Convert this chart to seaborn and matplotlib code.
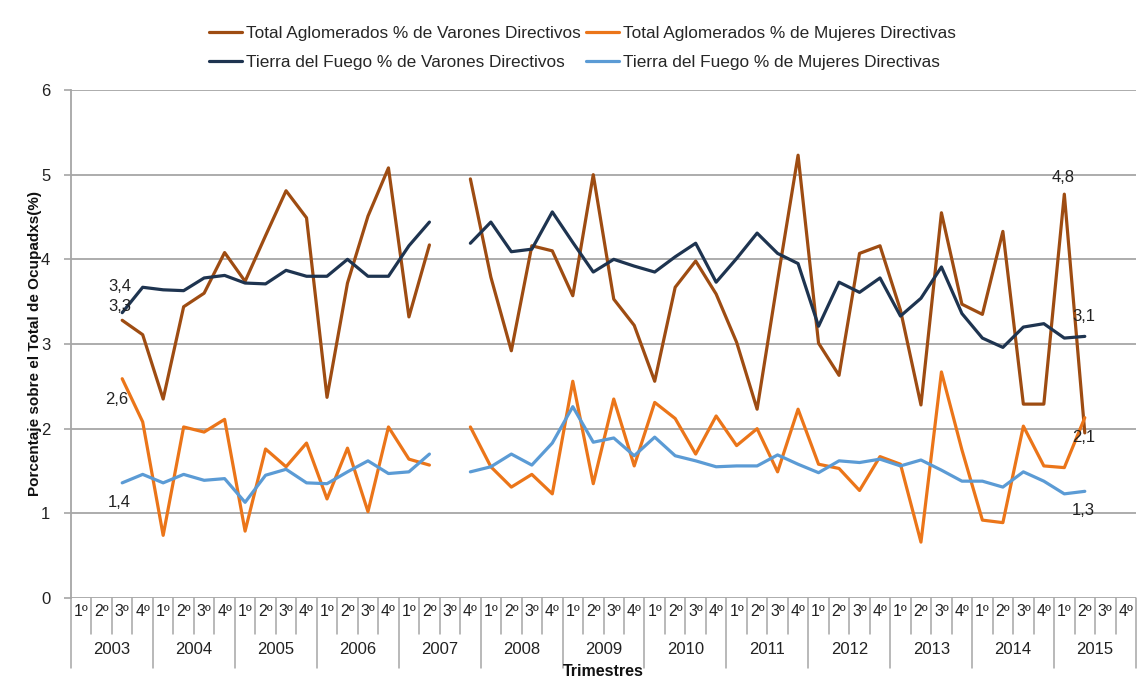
import numpy as np
import pandas as pd
import matplotlib
matplotlib.use("Agg")
import matplotlib.pyplot as plt
import matplotlib.transforms as mtransforms
from matplotlib.lines import Line2D
import seaborn as sns

nan = np.nan
years = [str(y) for y in range(2003, 2016)]
quarters = ["1º", "2º", "3º", "4º"]

series_names = [
    "Total Aglomerados % de Varones Directivos",
    "Total Aglomerados % de Mujeres Directivas",
    "Tierra del Fuego % de Varones Directivos",
    "Tierra del Fuego % de Mujeres Directivas",
]

total_varones = [nan, nan, 3.28, 3.11, 2.35, 3.44, 3.60, 4.08, 3.74, 4.28, 4.81, 4.49,
                 2.37, 3.72, 4.51, 5.08, 3.32, 4.17, nan, 4.95, 3.79, 2.92, 4.16, 4.10,
                 3.57, 5.00, 3.53, 3.22, 2.56, 3.67, 3.98, 3.59, 3.02, 2.23, 3.75, 5.23,
                 3.01, 2.63, 4.07, 4.16, 3.40, 2.28, 4.55, 3.47, 3.35, 4.33, 2.29, 2.29,
                 4.77, 1.95, nan, nan]
total_mujeres = [nan, nan, 2.59, 2.08, 0.74, 2.02, 1.96, 2.11, 0.79, 1.76, 1.55, 1.83,
                 1.17, 1.77, 1.02, 2.02, 1.64, 1.57, nan, 2.02, 1.55, 1.31, 1.46, 1.23,
                 2.56, 1.35, 2.35, 1.56, 2.31, 2.12, 1.70, 2.15, 1.80, 2.00, 1.49, 2.23,
                 1.58, 1.53, 1.27, 1.67, 1.58, 0.66, 2.67, 1.75, 0.92, 0.89, 2.03, 1.56,
                 1.54, 2.13, nan, nan]
tdf_varones = [nan, nan, 3.37, 3.67, 3.64, 3.63, 3.78, 3.81, 3.72, 3.71, 3.87, 3.80,
               3.80, 4.00, 3.80, 3.80, 4.16, 4.44, nan, 4.19, 4.44, 4.09, 4.12, 4.56,
               4.20, 3.85, 4.00, 3.92, 3.85, 4.03, 4.19, 3.73, 4.01, 4.31, 4.07, 3.95,
               3.21, 3.73, 3.61, 3.78, 3.33, 3.54, 3.91, 3.36, 3.07, 2.96, 3.20, 3.24,
               3.07, 3.09, nan, nan]
tdf_mujeres = [nan, nan, 1.36, 1.46, 1.36, 1.46, 1.39, 1.41, 1.13, 1.45, 1.52, 1.36,
               1.35, 1.49, 1.62, 1.47, 1.49, 1.70, nan, 1.49, 1.55, 1.70, 1.57, 1.83,
               2.26, 1.84, 1.89, 1.68, 1.90, 1.68, 1.62, 1.55, 1.56, 1.56, 1.69, 1.58,
               1.48, 1.62, 1.60, 1.64, 1.56, 1.63, 1.51, 1.38, 1.38, 1.31, 1.49, 1.38,
               1.23, 1.26, nan, nan]

colors = ["#9E4C12", "#EB7519", "#1E3450", "#5B9BD5"]
all_values = [total_varones, total_mujeres, tdf_varones, tdf_mujeres]

# long-form table
rows = []
for name, vals in zip(series_names, all_values):
    seg = 0
    for i, v in enumerate(vals):
        if np.isnan(v):
            seg += 1
            continue
        rows.append({"serie": name, "x": i, "valor": v, "seg": seg})
df = pd.DataFrame(rows)

sns.set_theme(style="white")
plt.rcParams["font.family"] = ["Liberation Sans", "DejaVu Sans"]

fig = plt.figure(figsize=(11.37, 6.91), dpi=100)
W, H = 1137, 691
ax_left, ax_right, ax_top, ax_bot = 71, 1136, 90, 598
ax = fig.add_axes([ax_left / W, 1 - ax_bot / H, (ax_right - ax_left) / W, (ax_bot - ax_top) / H])

sns.lineplot(data=df, x="x", y="valor", hue="serie", units="seg", estimator=None,
             hue_order=series_names, palette=colors, linewidth=2.3, legend=False,
             sort=False, ax=ax)

n = len(years) * len(quarters)
ax.set_xlim(-0.5, n - 0.5)
ax.set_ylim(0, 6)
ax.set_yticks(range(0, 7))
ax.set_yticklabels([str(v) for v in range(0, 7)], fontsize=12, color="#222222")
ax.yaxis.grid(True, color="#A6A6A6", linewidth=1.3)
ax.xaxis.grid(False)
for s in ["top", "right", "bottom"]:
    ax.spines[s].set_visible(False)
ax.spines["left"].set_color("#A6A6A6")
ax.spines["left"].set_linewidth(1.3)
ax.tick_params(axis="y", length=5, width=1.2, color="#A6A6A6", pad=10, left=True)

ax.set_xticks(range(n))
ax.set_xticklabels(quarters * len(years), fontsize=11.5, color="#222222")
ax.tick_params(axis="x", length=0, pad=4)
ax.set_xlabel("")
ax.set_ylabel("Porcentaje sobre el Total de Ocupadxs(%)", fontsize=11, fontweight="bold",
              color="#111111")
ax.yaxis.set_label_coords(-0.027, 0.5)

# category table separators
trans = mtransforms.blended_transform_factory(ax.transData, ax.transAxes)
y_q = (ax_bot - 634) / (ax_bot - ax_top)
y_y = (ax_bot - 668) / (ax_bot - ax_top)
for k in range(n + 1):
    ybot = y_y if k % 4 == 0 else y_q
    ax.plot([k - 0.5, k - 0.5], [0, ybot], transform=trans, color="#A6A6A6",
            linewidth=1.1, clip_on=False)
y_lab = (ax_bot - 649) / (ax_bot - ax_top)
for j, yr in enumerate(years):
    ax.text(4 * j + 1.5, y_lab, yr, transform=trans, ha="center", va="center",
            fontsize=12, color="#222222")
ax.text(25.5, (ax_bot - 672) / (ax_bot - ax_top), "Trimestres", transform=trans,
        ha="center", va="center", fontsize=11.5, fontweight="bold", color="#111111")

# data labels
def lab(vals, i, dx, dy):
    v = vals[i]
    ax.annotate(f"{v:.1f}".replace(".", ","), (i, v), xytext=(dx, dy),
                textcoords="offset points", ha="center", va="center",
                fontsize=12, color="#222222")

lab(tdf_varones, 2, -2, 19)
lab(total_varones, 2, -2, 10)
lab(total_mujeres, 2, -4, -15)
lab(tdf_mujeres, 2, -2, -14)
lab(total_varones, 48, -1, 12)
lab(tdf_varones, 49, -1, 14)
lab(total_mujeres, 49, -1, -14)
lab(tdf_mujeres, 49, -1, -14)

# legend
handles = [Line2D([0], [0], color=c, linewidth=2.3) for c in colors]
order = [0, 2, 1, 3]
fig.legend([handles[i] for i in order], [series_names[i] for i in order],
           ncol=2, loc="upper left", bbox_to_anchor=(197 / W, 1 - 14 / H),
           frameon=False, fontsize=12.4, handlelength=1.9, handletextpad=0.25,
           columnspacing=0.3, labelspacing=0.78, borderpad=0.2)

fig.savefig("out.png", dpi=100)
